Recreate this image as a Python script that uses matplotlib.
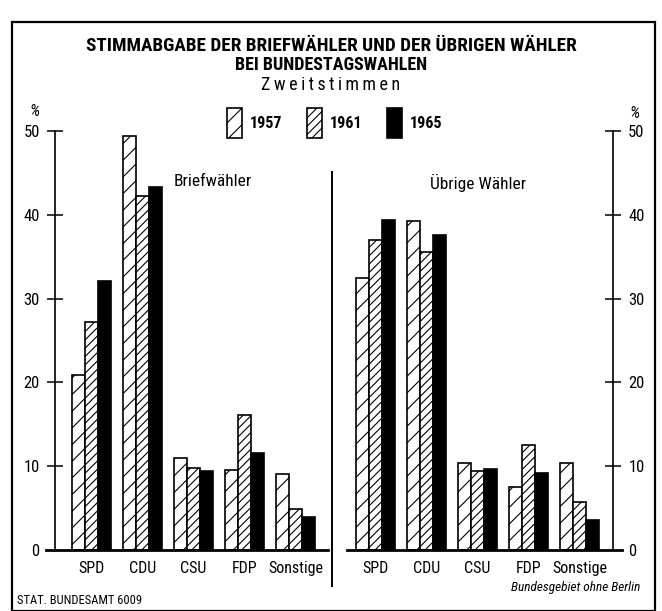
import numpy as np
import matplotlib
matplotlib.use("Agg")
import matplotlib.pyplot as plt
from matplotlib.patches import Patch, Rectangle

# Daten (Prozent der Zweitstimmen)
parteien = ["SPD", "CDU", "CSU", "FDP", "Sonstige"]
jahre = ["1957", "1961", "1965"]
brief_1957 = [20.9, 49.4, 11.0, 9.6, 9.1]
brief_1961 = [27.2, 42.2, 9.8, 16.1, 4.9]
brief_1965 = [32.1, 43.3, 9.4, 11.6, 3.9]
uebrige_1957 = [32.4, 39.3, 10.4, 7.5, 10.4]
uebrige_1961 = [37.0, 35.6, 9.4, 12.5, 5.7]
uebrige_1965 = [39.4, 37.6, 9.7, 9.2, 3.6]
y_ticks = [0, 10, 20, 30, 40, 50]

# schmale Schrift wie im Original, DejaVu als Ersatz
FONT = ["Roboto Condensed", "DejaVu Sans"]
plt.rcParams["font.family"] = FONT
plt.rcParams["hatch.linewidth"] = 0.8

W, H = 662, 611
fig = plt.figure(figsize=(W / 100, H / 100), dpi=100)

def fx(px):
    return px / W

def fy(py):
    return 1 - py / H

stile = [
    dict(facecolor="white", edgecolor="black", hatch="//"),
    dict(facecolor="white", edgecolor="black", hatch="////"),
    dict(facecolor="black", edgecolor="black", hatch=None),
]

einheit = 51.0        # Pixel pro Gruppe
breite = 13.0 / einheit

def panel(links, rechts, erstes_x, werte, seite):
    ax = fig.add_axes([fx(links), fy(550), fx(rechts - links), (550 - 131) / H])
    x0 = -(erstes_x - links) / einheit
    ax.set_xlim(x0, x0 + (rechts - links) / einheit)
    ax.set_ylim(0, 50)
    pos = np.arange(len(parteien))
    for i, (serie, st) in enumerate(zip(werte, stile)):
        ax.bar(pos + (i - 1) * breite, serie, width=breite, linewidth=1.2, **st)
    for s in ax.spines.values():
        s.set_visible(False)
    ax.spines[seite].set_visible(True)
    ax.spines[seite].set_linewidth(1.2)
    ax.set_xticks([])
    ax.set_yticks(y_ticks)
    ax.set_yticklabels([str(t) for t in y_ticks], fontsize=12)
    if seite == "right":
        ax.yaxis.tick_right()
        ax.axhline(0, xmin=0, xmax=1 + 9 / (rechts - links), color="black",
                   lw=2, clip_on=False)
    else:
        ax.axhline(0, xmin=-9 / (rechts - links), xmax=1, color="black",
                   lw=2, clip_on=False)
    ax.tick_params(axis="y", direction="inout", length=12, width=1.1, pad=5)
    ax.yaxis.get_major_ticks()[0].tick1line.set_visible(False)
    ax.yaxis.get_major_ticks()[0].tick2line.set_visible(False)
    for p in pos:
        ax.text(p, -2.2, parteien[p], ha="center", va="center", fontsize=11.5)
    ax.patch.set_alpha(0)
    return ax

ax1 = panel(55, 328, 91.5, [brief_1957, brief_1961, brief_1965], "left")
ax2 = panel(347, 613, 375.5, [uebrige_1957, uebrige_1961, uebrige_1965], "right")

# Rahmen und Trennlinie
fig.add_artist(Rectangle((fx(12), 0), fx(655 - 12), fy(22), fill=False,
                         edgecolor="black", lw=1.6, transform=fig.transFigure))
fig.add_artist(plt.Line2D([fx(332), fx(332)], [fy(172), fy(586)], color="black",
                          lw=1.4, transform=fig.transFigure))

# Titel
fig.text(0.5, fy(46), "STIMMABGABE DER BRIEFWÄHLER UND DER ÜBRIGEN WÄHLER",
         ha="center", va="center", fontsize=13.8, weight="bold")
fig.text(0.5, fy(65), "BEI BUNDESTAGSWAHLEN", ha="center", va="center",
         fontsize=13, weight="bold")
fig.text(0.5, fy(85), "\u2009".join("Zweitstimmen"), ha="center", va="center",
         fontsize=13)

fig.text(fx(213), fy(182), "Briefwähler", ha="center", va="center", fontsize=12.5)
fig.text(fx(478), fy(183), "Übrige Wähler", ha="center", va="center", fontsize=12.5)

fig.text(fx(35), fy(111), "%", ha="center", va="center", fontsize=12, style="italic")
fig.text(fx(635), fy(113), "%", ha="center", va="center", fontsize=12, style="italic")

# Legende
handles = [Patch(linewidth=1.2, **st) for st in stile]
fig.legend(handles, jahre, loc="upper left", bbox_to_anchor=(fx(227), fy(108)),
           ncol=3, frameon=False, handlelength=0.92, handleheight=2.5,
           handletextpad=0.5, columnspacing=1.55, borderpad=0, borderaxespad=0,
           prop={"family": FONT, "weight": "bold", "size": 11.5})

# Fussnoten
fig.text(fx(17), fy(600), "STAT. BUNDESAMT 6009", ha="left", va="center", fontsize=9)
fig.text(fx(640), fy(588), "Bundesgebiet ohne Berlin", ha="right", va="center",
         fontsize=9.5, style="italic")

fig.savefig("out.png", dpi=100)
